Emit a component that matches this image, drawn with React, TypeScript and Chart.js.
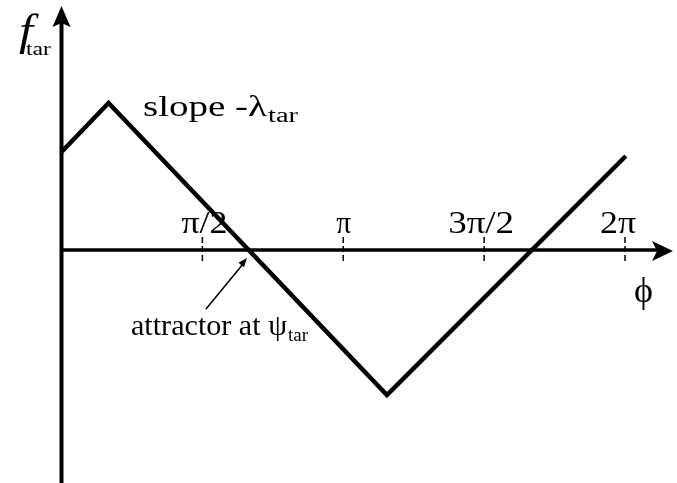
import React, { useEffect, useRef } from "react";
import { Chart, registerables } from "chart.js";

Chart.register(...registerables);

// phi in units of pi
const phiValues = [0, 0.167, 1.155, 2.003];
const fValues = [0.98, 1.47, -1.45, 0.94];
const tickValues = [0.5, 1, 1.5, 2];
const tickLabels = ["π/2", "π", "3π/2", "2π"];

const SERIF = "'Liberation Serif', 'Times New Roman', serif";

function drawFit(ctx: CanvasRenderingContext2D, text: string, x: number, y: number, width: number, font: string) {
  ctx.save();
  ctx.font = font;
  const w = ctx.measureText(text).width;
  ctx.translate(x, y);
  ctx.scale(width / w, 1);
  ctx.textAlign = "left";
  ctx.textBaseline = "alphabetic";
  ctx.fillText(text, 0, 0);
  ctx.restore();
}

const decorPlugin = {
  id: "decor",
  afterDatasetsDraw(chart: any) {
    const ctx: CanvasRenderingContext2D = chart.ctx;
    const xs = chart.scales.x;
    const ys = chart.scales.y;
    const x0 = xs.getPixelForValue(0);
    const y0 = ys.getPixelForValue(0);
    ctx.save();
    ctx.strokeStyle = "#000";
    ctx.fillStyle = "#000";
    // y axis
    ctx.lineWidth = 4;
    ctx.beginPath();
    ctx.moveTo(x0, chart.height);
    ctx.lineTo(x0, 20);
    ctx.stroke();
    ctx.beginPath();
    ctx.moveTo(x0, 6);
    ctx.lineTo(x0 - 9, 27);
    ctx.lineTo(x0, 23);
    ctx.lineTo(x0 + 9, 27);
    ctx.closePath();
    ctx.fill();
    // x axis
    ctx.lineWidth = 3.5;
    ctx.beginPath();
    ctx.moveTo(x0, y0);
    ctx.lineTo(660, y0);
    ctx.stroke();
    ctx.beginPath();
    ctx.moveTo(673, y0 + 1);
    ctx.lineTo(652, y0 - 9);
    ctx.lineTo(657, y0 + 1);
    ctx.lineTo(652, y0 + 11);
    ctx.closePath();
    ctx.fill();
    // ticks
    ctx.lineWidth = 1.5;
    ctx.setLineDash([6, 3]);
    tickValues.forEach((v) => {
      const px = xs.getPixelForValue(v);
      ctx.beginPath();
      ctx.moveTo(px, y0 - 13);
      ctx.lineTo(px, y0 + 13);
      ctx.stroke();
    });
    ctx.setLineDash([]);
    // tick labels
    const tickWidths = [46, 15, 66, 36];
    const tickOffsets = [-21, -7, -36, -25];
    tickValues.forEach((v, i) => {
      const px = xs.getPixelForValue(v);
      drawFit(ctx, tickLabels[i], px + tickOffsets[i], y0 - 17, tickWidths[i], `31px ${SERIF}`);
    });
    // y-axis label
    drawFit(ctx, "f", 19, 45, 14, `italic 44px ${SERIF}`);
    drawFit(ctx, "tar", 26, 55, 25, `19px ${SERIF}`);
    // slope label
    drawFit(ctx, "slope -λ", 143, 116, 124, `30px ${SERIF}`);
    drawFit(ctx, "tar", 268, 122, 30, `20px ${SERIF}`);
    // phi label
    drawFit(ctx, "ϕ", 634, 302, 19, `36px ${SERIF}`);
    // attractor label
    drawFit(ctx, "attractor at ψ", 131, 335, 156, `29px ${SERIF}`);
    drawFit(ctx, "tar", 288, 341, 20, `19px ${SERIF}`);
    // small arrow to attractor
    const ax = xs.getPixelForValue(0.665);
    ctx.lineWidth = 1.5;
    ctx.beginPath();
    ctx.moveTo(206, 309);
    ctx.lineTo(ax - 5, y0 + 13);
    ctx.stroke();
    const tipX = ax - 2;
    const tipY = y0 + 8;
    const ang = Math.atan2(tipY - 309, tipX - 206);
    ctx.beginPath();
    ctx.moveTo(tipX, tipY);
    ctx.lineTo(tipX - 9 * Math.cos(ang) + 3.5 * Math.sin(ang), tipY - 9 * Math.sin(ang) - 3.5 * Math.cos(ang));
    ctx.lineTo(tipX - 9 * Math.cos(ang) - 3.5 * Math.sin(ang), tipY - 9 * Math.sin(ang) + 3.5 * Math.cos(ang));
    ctx.closePath();
    ctx.fill();
    ctx.restore();
  },
};

export default function App() {
  const canvasRef = useRef<HTMLCanvasElement>(null);
  useEffect(() => {
    if (!canvasRef.current) return;
    const chart = new Chart(canvasRef.current, {
      type: "line",
      data: {
        datasets: [
          {
            data: phiValues.map((p, i) => ({ x: p, y: fValues[i] })),
            borderColor: "#000",
            borderWidth: 4.5,
            pointRadius: 0,
            tension: 0,
            fill: false,
            clip: false as any,
            borderJoinStyle: "miter",
          },
        ],
      },
      options: {
        animation: false,
        responsive: false,
        layout: { padding: 0 },
        plugins: { legend: { display: false }, tooltip: { enabled: false } },
        scales: {
          x: { type: "linear", display: false, min: -61.5 / 281.75, max: (677 - 61.5) / 281.75 },
          y: { type: "linear", display: false, min: -2.33, max: 2.5 },
        },
      },
      plugins: [decorPlugin],
    });
    return () => chart.destroy();
  }, []);
  return (
    <div style={{ position: "absolute", left: 0, top: 0, width: 677, height: 483, background: "#fff" }}>
      <canvas ref={canvasRef} width={677} height={483} style={{ display: "block" }} />
    </div>
  );
}
